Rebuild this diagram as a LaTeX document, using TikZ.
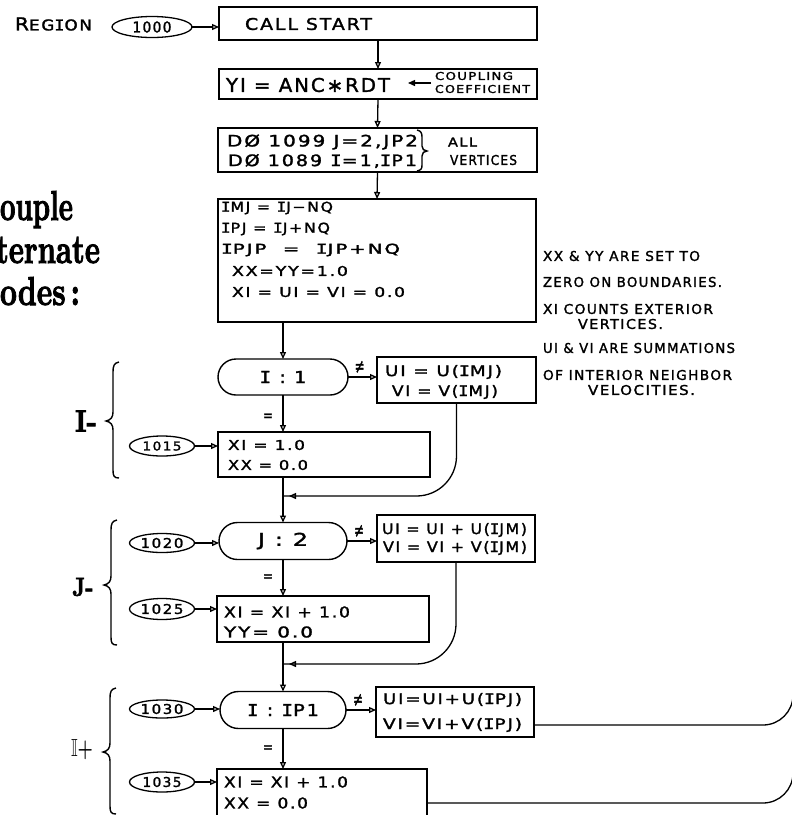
\documentclass[tikz,border=0pt]{standalone}
\usepackage{fontspec}
\usepackage{graphicx}
\usepackage{amssymb}
\usetikzlibrary{arrows.meta,shapes.geometric,shapes.misc,decorations.markings}
\newfontfamily\hand[LetterSpace=10,FakeBold=1.6]{DejaVu Sans}
\newfontfamily\handmono[FakeBold=1.6]{DejaVu Sans Mono}
\newfontfamily\heavyserif[FakeBold=2.5]{Latin Modern Roman}
\newcommand\Iser{{\handmono I}}
\newcommand\ftxt[3]{\resizebox{#1pt}{#2pt}{\hand #3}}
\begin{document}
\begin{tikzpicture}[x=1pt,y=-1pt,
  every node/.style={inner sep=0pt, outer sep=0pt},
  box/.style={draw, line width=1.4pt, rectangle, anchor=north west},
  oval/.style={draw, line width=1.4pt, rounded rectangle},
  tag/.style={draw, line width=1.3pt, ellipse, minimum width=65pt, minimum height=20pt},
  txt/.style={anchor=west},
  flow/.style={line width=1.3pt, -{Triangle[open,length=7pt,width=6pt]}},
  plain/.style={line width=1.3pt},
  brc/.style={line width=1.4pt},
  midarrow/.style={postaction={decorate}, decoration={markings,
     mark=at position -6pt with {\arrow{Triangle[open,length=7pt,width=6pt]}}}}
]
\fill[white] (0,0) rectangle (792,815);
\useasboundingbox (0,0) rectangle (792,815);
\clip (0,0) rectangle (792,815);

% ---------- left large serif text ----------
\node[anchor=base west] (t1) at (0,220) {\resizebox{73pt}{29pt}{\heavyserif\bfseries ouple}};
\node[anchor=base west] (t2) at (-4,263) {\resizebox{104pt}{26pt}{\heavyserif\bfseries ternate}};
\node[anchor=base west] (t3) at (0,305) {\resizebox{80pt}{28pt}{\heavyserif\bfseries odes\,:}};

% ---------- header ----------
\node[txt] (region) at (15,24) {\ftxt{77}{13}{{\large R}EG\Iser ON}};
\node[tag, minimum width=80pt, minimum height=21pt] (e1000) at (152,27) {\ftxt{39}{11}{1000}};
\node[box, minimum width=318pt, minimum height=33pt] (callstart) at (219,7) {};
\node[txt] (tcall) at (245,24) {\ftxt{127}{12}{CALL START}};

\node[box, minimum width=318pt, minimum height=30pt] (yibox) at (219,69) {};
\node[txt] (tyi) at (226,85) {\ftxt{164}{14}{YI = ANC∗RDT}};
\node[txt] (tcoup) at (435,76) {\ftxt{78}{8}{COUPLING}};
\node[txt] (tcoef) at (435,89) {\ftxt{95}{8}{COEFFICIENT}};
\coordinate (cct) at (431,83);
\coordinate (cch) at (408,83);
\draw[line width=1.3pt, -{Triangle[length=7pt,width=6pt]}] (cct) -- (cch);

\node[box, minimum width=319pt, minimum height=44pt] (dobox) at (218,128) {};
\node[txt] (tdo1) at (227,142) {\ftxt{191}{12}{DØ 1099 J=2,JP2}};
\node[txt] (tdo2) at (228,161) {\ftxt{189}{12}{DØ 1089 \Iser=1,\Iser P1}};
\draw[brc] (417,130) .. controls (421,131) and (422,133) .. (422,137) -- (422,146)
  .. controls (422,149) and (424,151) .. (427,151) .. controls (424,151) and (422,153) .. (422,156)
  -- (422,165) .. controls (422,169) and (421,170) .. (417,171);
\node[txt] (tall) at (448,142) {\ftxt{29}{9}{ALL}};
\node[txt] (tvert) at (450,160) {\ftxt{67}{10}{VERTICES}};

\node[box, minimum width=318pt, minimum height=123pt] (bigbox) at (218,199) {};
\node[txt] (r1) at (221,208) {\ftxt{112}{10}{\Iser MJ = \Iser J−NQ}};
\node[txt] (r2) at (221,229) {\ftxt{109}{10}{\Iser PJ = \Iser J+NQ}};
\node[txt] (r3) at (221,250) {\ftxt{179}{10}{\Iser PJP\ \ =\ \ \Iser JP+NQ}};
\node[txt] (r4) at (232,271) {\ftxt{116}{10}{XX=YY=1.0}};
\node[txt] (r5) at (232,292) {\ftxt{173}{10}{XI = UI = VI = 0.0}};

% ---------- notes ----------
\node[txt] (n1) at (543,256) {\ftxt{157}{10}{XX \& YY ARE SET TO}};
\node[txt] (n2) at (543,282) {\ftxt{179}{10}{ZERO ON BOUNDARIES.}};
\node[txt] (n3) at (543,309) {\ftxt{170}{10}{XI COUNTS EXTERIOR}};
\node[txt] (n4) at (578,324) {\ftxt{85}{10}{VERTICES.}};
\node[txt] (n5) at (543,348) {\ftxt{192}{10}{UI \& VI ARE SUMMATIONS}};
\node[txt] (n6) at (543,375) {\ftxt{189}{10}{OF INTERIOR NEIGHBOR}};
\node[txt] (n7) at (588,390) {\ftxt{107}{10}{VELOCITIES.}};

% ---------- I- section ----------
\node[oval, minimum width=130pt, minimum height=36pt] (i1) at (283,377) {\ftxt{47}{12}{\Iser\ :\ 1}};
\node[box, minimum width=159pt, minimum height=46pt] (ui1) at (377,357) {};
\node[txt] (tu1) at (385,372) {\ftxt{117}{11}{UI = U(\Iser MJ)}};
\node[txt] (tv1) at (392,392) {\ftxt{106}{11}{VI = V(\Iser MJ)}};
\node[box, minimum width=212pt, minimum height=45pt] (b1015) at (218,432) {};
\node[txt] (tx1) at (228,445) {\ftxt{77}{10}{XI = 1.0}};
\node[txt] (txx1) at (228,465) {\ftxt{80}{10}{XX = 0.0}};
\node[tag] (e1015) at (162,446) {\ftxt{39}{9}{1015}};

% ---------- J- section ----------
\node[oval, minimum width=128pt, minimum height=37pt] (j2) at (283,541) {\ftxt{50}{13}{J\ :\ 2}};
\node[tag, minimum height=19pt] (e1020) at (162,543) {\ftxt{43}{10}{1020}};
\node[box, minimum width=158pt, minimum height=47pt] (uijm) at (377,515) {};
\node[txt] (tu2) at (382,530) {\ftxt{145}{11}{UI = UI + U(\Iser JM)}};
\node[txt] (tv2) at (383,548) {\ftxt{144}{11}{VI = VI + V(\Iser JM)}};
\node[box, minimum width=212pt, minimum height=46pt] (b1025) at (217,596) {};
\node[txt] (tx2) at (224,612) {\ftxt{126}{11}{XI = XI + 1.0}};
\node[txt] (tyy2) at (224,632) {\ftxt{89}{11}{YY= 0.0}};
\node[tag, minimum height=21pt] (e1025) at (162,609) {\ftxt{43}{10}{1025}};

% ---------- I+ section ----------
\node[oval, minimum width=126pt, minimum height=37pt] (ip1) at (283,710) {\ftxt{72}{12}{\Iser\ :\ \Iser P1}};
\node[tag, minimum height=18pt] (e1030) at (162,709) {\ftxt{43}{10}{1030}};
\node[box, minimum width=158pt, minimum height=50pt] (uipj) at (376,687) {};
\node[txt] (tu3) at (383,700) {\ftxt{139}{11}{UI=UI+U(\Iser PJ)}};
\node[txt] (tv3) at (383,725) {\ftxt{139}{11}{VI=VI+V(\Iser PJ)}};
\node[box, minimum width=210pt, minimum height=71pt] (b1035) at (217,769) {};
\node[txt] (tx3) at (224,782) {\ftxt{124}{11}{XI = XI + 1.0}};
\node[txt] (txx3) at (224,803) {\ftxt{84}{11}{XX = 0.0}};
\node[tag] (e1035) at (162,782) {\ftxt{39}{10}{1035}};

% ---------- coordinates ----------
\coordinate (m1) at (283,496);
\coordinate (m2) at (283,664);
\coordinate (y725) at (0,725);
\coordinate (y803) at (0,803);
\coordinate (out1) at (793,670);
\coordinate (out2) at (793,750);

% ---------- connectors ----------
\draw[flow] (e1000.east) -- (e1000.east -| callstart.west);
\draw[flow] (callstart.south) -- (yibox.north);
\draw[flow] (yibox.south) -- (dobox.north);
\draw[flow] (dobox.south) -- (bigbox.north);
\draw[flow] (bigbox.south -| i1.north) -- (i1.north);

\draw[flow] (i1.east) -- (i1.east -| ui1.west) node[pos=0.4, above=4pt] (ne1) {\ftxt{10}{12}{≠}};
\draw[flow] (i1.south) -- (i1.south |- b1015.north) node[pos=0.6, left=10pt] (eq1) {\ftxt{10}{7}{=}};
\draw[flow] (e1015.east) -- (e1015.east -| b1015.west);
\draw[flow] (b1015.south -| j2.north) -- (j2.north);
\draw[plain, midarrow, rounded corners=40pt] (ui1.south) |- (m1);

\draw[flow] (e1020.east) -- (e1020.east -| j2.west);
\draw[flow] (j2.east) -- (j2.east -| uijm.west) node[pos=0.4, above=4pt] (ne2) {\ftxt{10}{12}{≠}};
\draw[flow] (j2.south) -- (j2.south |- b1025.north) node[pos=0.5, left=10pt] (eq2) {\ftxt{10}{7}{=}};
\draw[flow] (e1025.east) -- (e1025.east -| b1025.west);
\draw[flow] (b1025.south -| ip1.north) -- (ip1.north);
\draw[plain, midarrow, rounded corners=40pt] (uijm.south) |- (m2);

\draw[flow] (e1030.east) -- (e1030.east -| ip1.west);
\draw[flow] (ip1.east) -- (ip1.east -| uipj.west) node[pos=0.4, above=4pt] (ne3) {\ftxt{10}{12}{≠}};
\draw[flow] (ip1.south) -- (ip1.south |- b1035.north) node[pos=0.5, left=10pt] (eq3) {\ftxt{10}{7}{=}};
\draw[flow] (e1035.east) -- (e1035.east -| b1035.west);
\draw[plain, rounded corners=30pt] (uipj.east |- y725) -| (out1);
\draw[plain, rounded corners=30pt] (b1035.east |- y803) -| (out2);

% ---------- left braces and labels ----------
\node (lI) at (86,421) {\resizebox{22pt}{21pt}{\heavyserif\bfseries I-}};
\node (lJ) at (83,587) {\resizebox{21pt}{18pt}{\heavyserif\bfseries J-}};
\node (lII) at (82,750) {\resizebox{22pt}{17pt}{$\mathbb{I}$\textbf{+}}};
\draw[brc] (119,362) .. controls (114,363) and (113,366) .. (113,372) -- (113,412)
  .. controls (113,417) and (111,420) .. (106,421) .. controls (111,422) and (113,425) .. (113,430)
  -- (113,470) .. controls (113,476) and (114,478) .. (119,478);
\draw[brc] (117,520) .. controls (112,521) and (111,524) .. (111,530) -- (111,576)
  .. controls (111,581) and (109,584) .. (104,585) .. controls (109,586) and (111,589) .. (111,594)
  -- (111,637) .. controls (111,643) and (112,645) .. (117,645);
\draw[brc] (116,688) .. controls (111,689) and (110,692) .. (110,698) -- (110,743)
  .. controls (110,748) and (108,751) .. (103,752) .. controls (108,753) and (110,756) .. (110,761)
  -- (110,806) .. controls (110,812) and (111,814) .. (116,814);
\end{tikzpicture}
\end{document}
